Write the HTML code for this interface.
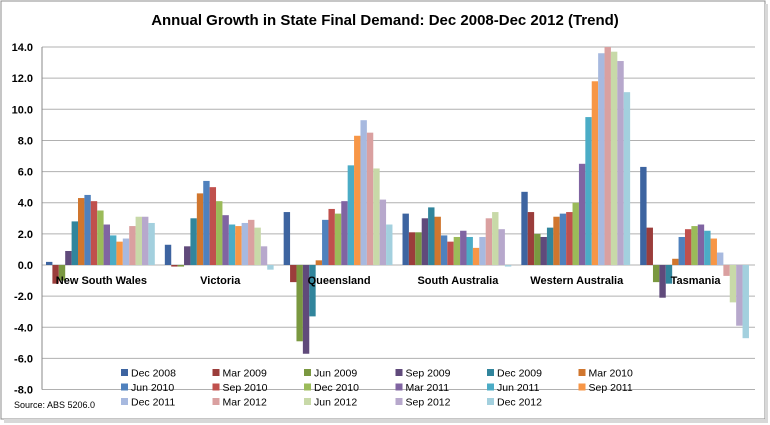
<!DOCTYPE html>
<html><head><meta charset="utf-8"><style>
body{margin:0;background:#fff;}
svg{display:block;font-family:"Liberation Sans",Arial,sans-serif;}
</style></head><body>
<svg id="chart" width="770" height="425">
<rect x="1" y="1" width="764" height="418" fill="#fff" stroke="#8c8c8c"/>
<rect x="4" y="419" width="763" height="4" fill="#d8d8d8"/>
<rect x="765" y="4" width="3" height="419" fill="#d8d8d8"/>
<text x="385" y="25" text-anchor="middle" font-size="15" font-weight="bold">Annual Growth in State Final Demand: Dec 2008-Dec 2012 (Trend)</text>
<text x="14" y="408" font-size="9">Source: ABS 5206.0</text>
<g id="grid"></g><g id="bars"></g><g id="labels"></g><g id="legend"></g>
</svg>
<script>
const categories=["New South Wales","Victoria","Queensland","South Australia","Western Australia","Tasmania"];
const seriesNames=["Dec 2008","Mar 2009","Jun 2009","Sep 2009","Dec 2009","Mar 2010","Jun 2010","Sep 2010","Dec 2010","Mar 2011","Jun 2011","Sep 2011","Dec 2011","Mar 2012","Jun 2012","Sep 2012","Dec 2012"];
const nsw=[0.2,-1.2,-1.0,0.9,2.8,4.3,4.5,4.1,3.5,2.6,1.9,1.5,1.7,2.5,3.1,3.1,2.7];
const vic=[1.3,-0.1,-0.1,1.2,3.0,4.6,5.4,5.0,4.1,3.2,2.6,2.5,2.7,2.9,2.4,1.2,-0.3];
const qld=[3.4,-1.1,-4.9,-5.7,-3.3,0.3,2.9,3.6,3.3,4.1,6.4,8.3,9.3,8.5,6.2,4.2,2.6];
const sa=[3.3,2.1,2.1,3.0,3.7,3.1,1.9,1.5,1.8,2.2,1.8,1.1,1.8,3.0,3.4,2.3,-0.1];
const wa=[4.7,3.4,2.0,1.8,2.4,3.1,3.3,3.4,4.0,6.5,9.5,11.8,13.6,14.0,13.7,13.1,11.1];
const tas=[6.3,2.4,-1.1,-2.1,-1.2,0.4,1.8,2.3,2.5,2.6,2.2,1.7,0.8,-0.7,-2.4,-3.9,-4.7];
const stateValues=[nsw,vic,qld,sa,wa,tas];
const yTicks=[14,12,10,8,6,4,2,0,-2,-4,-6,-8];
const colors=["#3d64a0","#9b3d3b","#7a9840","#604a7b","#31859c","#d0762e","#4f81bd","#c0504d","#9bbb59","#8064a2","#4bacc6","#f79646","#a7b9df","#daa0a0","#c8d9a8","#b7a8cc","#a3d0de"];
const NS="http://www.w3.org/2000/svg";
const X0=42,X1=755,Y0=265,PX=15.57;
function y(v){return Y0-v*PX;}
const gw=(X1-X0)/categories.length, bw=6.4;
function mk(t,a,p){const e=document.createElementNS(NS,t);for(const k in a)e.setAttribute(k,a[k]);document.getElementById(p).appendChild(e);return e;}
yTicks.forEach(t=>{
  const l=mk("line",{x1:X0,x2:X1,y1:y(t),y2:y(t),stroke:"#b0b0b0","stroke-width":1},"grid");
  
  
  const tx=mk("text",{x:X0-9,y:y(t)+4,"text-anchor":"end","font-size":"11","font-weight":"bold"},"grid");
  tx.textContent=t.toFixed(1);
  
  
});
const ax=mk("line",{x1:X0,x2:X0,y1:y(14),y2:y(-8),stroke:"#888"},"grid");


stateValues.forEach((vals,ci)=>{
  const start=X0+ci*gw+4;
  vals.forEach((v,si)=>{
    const top=Math.min(y(v),Y0),h=Math.abs(y(v)-Y0);
    const r=mk("rect",{x:start+si*bw,y:top,width:bw,height:Math.max(h,0.5),fill:colors[si]},"bars");
    
    
  });
  const lb=mk("text",{x:X0+ci*gw+gw/2,y:284,"text-anchor":"middle","font-size":"11","font-weight":"bold"},"labels");
  lb.textContent=categories[ci];
  
  
});
seriesNames.forEach((n,i)=>{
  const col=i%6,row=Math.floor(i/6);
  const lx=121+col*91.5, ly=373+row*14.5;
  const r=mk("rect",{x:lx,y:ly-4,width:7,height:7,fill:colors[i]},"legend");
  
  
  const t=mk("text",{x:lx+10,y:ly+3.5,"font-size":"10.5"},"legend");
  t.textContent=n;
  
  
});
</script>
</body></html>
